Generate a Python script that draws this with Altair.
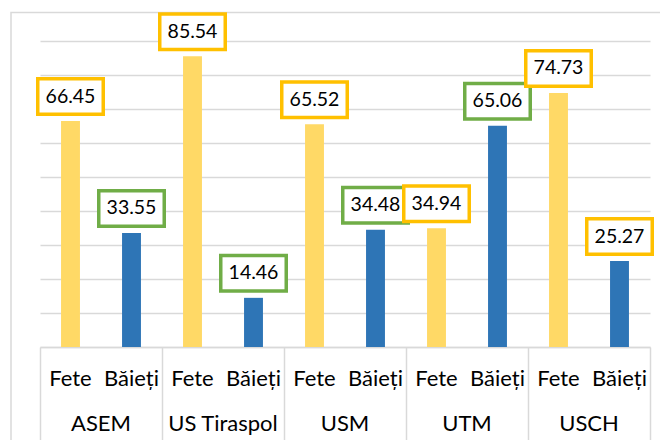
import altair as alt
import pandas as pd

groups = ["ASEM", "US Tiraspol", "USM", "UTM", "USCH"]
sexes = ["Fete", "Băieți"]
fete = [66.45, 85.54, 65.52, 34.94, 74.73]
baieti = [33.55, 14.46, 34.48, 65.06, 25.27]
fete_frame = ["orange", "orange", "orange", "orange", "orange"]
baieti_frame = ["green", "green", "green", "green", "orange"]

rows = []
for i, g in enumerate(groups):
    rows.append({"group": g, "sex": "Fete", "value": fete[i], "frame": fete_frame[i]})
    rows.append({"group": g, "sex": "Băieți", "value": baieti[i], "frame": baieti_frame[i]})
df = pd.DataFrame(rows)
gdf = pd.DataFrame({"group": groups})

W, H = 610, 306
FONT = "Lato"
FS_VAL = 19.5
FS_AX = 22
GRID = "#d9d9d9"

xenc = alt.X("group:N", sort=groups,
             scale=alt.Scale(paddingInner=0, paddingOuter=0),
             axis=alt.Axis(title=None, labels=False, domainColor=GRID, domainWidth=1.5,
                           tickColor=GRID, tickWidth=1.5, tickSize=94, tickBand="extent"))
xoff = alt.XOffset("sex:N", sort=sexes,
                   scale=alt.Scale(paddingInner=0.69, paddingOuter=0.345))
yenc = alt.Y("value:Q", scale=alt.Scale(domain=[0, 90], nice=False, zero=True),
             axis=alt.Axis(title=None, values=list(range(0, 100, 10)), grid=True,
                           gridColor=GRID, gridWidth=1.5, labels=False, ticks=False,
                           domain=False))

base = alt.Chart(df).encode(x=xenc, xOffset=xoff, y=yenc)

bars = base.mark_bar().encode(
    color=alt.Color("sex:N", scale=alt.Scale(domain=sexes, range=["#FFD966", "#2E75B6"]),
                    legend=None),
)

BOX = "M-1,-0.542 L1,-0.542 L1,0.542 L-1,0.542 Z"
boxes = base.mark_point(shape=BOX, size=4290, filled=True, fill="white", strokeWidth=3.5,
                        opacity=1, fillOpacity=1, strokeOpacity=1, yOffset=-24.5).encode(
    stroke=alt.Stroke("frame:N", scale=alt.Scale(domain=["orange", "green"],
                                                 range=["#FFC000", "#70AD47"]), legend=None),
)

texts = base.mark_text(font=FONT, fontSize=FS_VAL, color="black", baseline="middle",
                       yOffset=-24.5).encode(
    text=alt.Text("value:Q", format=".2f"),
)

sublabels = alt.Chart(df).mark_text(font=FONT, fontSize=FS_AX, color="black",
                                    baseline="middle").encode(
    x=xenc, xOffset=xoff,
    y=alt.value(H + 32),
    text="sex:N",
)

grouplabels = alt.Chart(gdf).mark_text(font=FONT, fontSize=FS_AX, color="black",
                                       baseline="middle").encode(
    x=xenc,
    y=alt.value(H + 77),
    text="group:N",
)

frame = alt.Chart(pd.DataFrame({"a": [0]})).mark_rect(
    fillOpacity=0, stroke=GRID, strokeWidth=1.5).encode(
    x=alt.value(-29), x2=alt.value(700), y=alt.value(-28.5), y2=alt.value(500)
)

chart = alt.layer(frame, bars, boxes, texts, sublabels, grouplabels).properties(
    width=W, height=H,
    padding={"left": 32, "top": 33, "right": 10, "bottom": 93},
    autosize=alt.AutoSizeParams(type="none"),
    background="white",
).configure_view(strokeWidth=0)

chart.save("out.html", embed_options={"renderer": "svg", "actions": False})
